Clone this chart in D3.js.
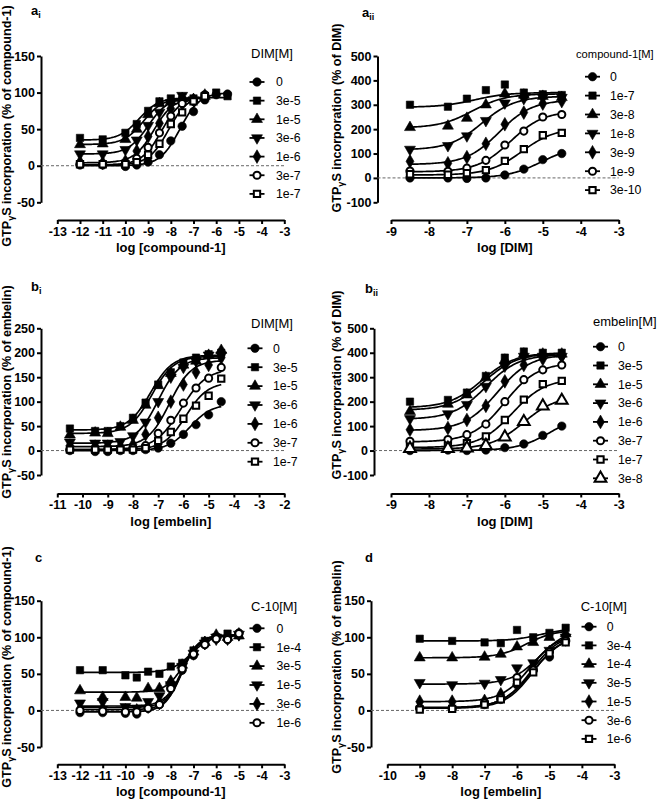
<!DOCTYPE html>
<html><head><meta charset="utf-8">
<script src="https://cdn.jsdelivr.net/npm/d3@7"></script>
<style>body{margin:0;background:#fff}svg{display:block}text{font-family:"Liberation Sans",Arial,sans-serif;fill:#000}</style>
</head><body><svg id="chart" width="660" height="803"></svg>
<script>
// ---------- DATA ----------
// Panel a_i : log [compound-1], DIM[M]
const aiX = [-12,-11,-10,-9.5,-9,-8.5,-8,-7.5,-7,-6.5,-6,-5.5];
const aiSeries = ["0","3e-5","1e-5","3e-6","1e-6","3e-7","1e-7"];
const aiValues = [
  [1,1,-1,1,5,15,34,54,74,90,97,98],
  [38,36,45,57,75,88,92,90,92,95,100,95],
  [29,30,36,50,70,85,88,92,90,95,null,null],
  [16,16,22,35,55,73,86,96,90,null,null,null],
  [5,4,6,20,40,58,78,85,90,96,null,null],
  [2,2,3,10,25,45,68,85,88,97,null,null],
  [2,2,2,5,15,30,57,73,88,95,null,null]
];
// fitted curve parameters: [bottom, top, logEC50, hill]
const aiFit = [[0,100,-7.6,1],[35,93,-9.4,1],[29,93,-9.2,1],[16,93,-9.0,1],[4,93,-8.75,1],[1,95,-8.4,1],[1,97,-8.1,1]];

// Panel a_ii : log [DIM], compound-1[M]
const aiiX = [-8.5,-7.5,-7,-6.5,-6,-5.5,-5,-4.5];
const aiiSeries = ["0","1e-7","3e-8","1e-8","3e-9","1e-9","3e-10"];
const aiiValues = [
  [0,0,-2,0,12,36,75,100],
  [300,292,325,360,383,350,343,340],
  [207,213,245,300,345,340,335,330],
  [117,132,172,235,307,325,330,330],
  [68,60,85,140,220,268,305,315],
  [28,27,40,72,135,192,250,260],
  [15,13,20,32,70,118,175,185]
];
const aiiFit = [[0,130,-5.05,1],[290,350,-6.8,1],[205,345,-6.85,1],[115,335,-6.6,1],[55,320,-6.15,1],[25,275,-5.85,1],[12,205,-5.55,1]];

// Panel b_i : log [embelin], DIM[M]
const biX = [-10.5,-9.5,-9,-8.5,-8,-7.5,-7,-6.5,-6,-5.5,-5,-4.5];
const biSeries = ["0","3e-5","1e-5","3e-6","1e-6","3e-7","1e-7"];
const biValues = [
  [0,-2,-2,0,0,2,5,15,33,53,73,100],
  [45,40,40,50,67,98,135,160,180,190,197,200],
  [32,36,35,48,62,93,133,158,175,183,195,205],
  [17,15,15,18,30,58,100,150,170,183,195,195],
  [10,8,8,8,12,33,67,100,135,160,175,190],
  [2,2,2,3,5,10,35,62,97,128,148,170],
  [2,2,2,2,2,5,20,38,65,92,112,147]
];
const biFit = [[0,95,-5.75,1],[42,195,-7.3,1],[35,193,-7.25,1],[15,190,-7.0,1],[8,185,-6.55,1],[2,168,-6.1,0.85],[2,140,-5.9,1]];

// Panel b_ii : log [DIM], embelin[M]
const biiX = [-8.5,-7.5,-7,-6.5,-6,-5.5,-5,-4.5];
const biiSeries = ["0","3e-5","1e-5","3e-6","1e-6","3e-7","1e-7","3e-8"];
const biiValues = [
  [0,2,0,2,12,27,62,100],
  [200,207,237,305,380,405,400,400],
  [160,190,228,298,370,395,395,395],
  [130,150,188,262,345,385,385,385],
  [85,92,125,183,283,350,375,385],
  [38,45,65,108,200,290,330,350],
  [15,20,30,58,125,208,272,285],
  [8,8,10,20,55,118,182,205]
];
const biiFit = [[0,150,-4.8,1],[175,400,-6.6,1],[165,398,-6.55,1],[128,393,-6.5,1],[82,393,-6.2,1],[35,360,-6.0,1],[12,295,-5.8,1],[6,225,-5.5,1]];

// Panel c : log [compound-1], C-10[M]
const cX = [-12,-11,-10,-9.5,-9,-8.5,-8,-7.5,-7,-6.5,-6,-5.5,-5];
const cSeries = ["0","1e-4","3e-5","1e-5","3e-6","1e-6"];
const cValues = [
  [-3,-3,-4,-5,3,8,30,55,75,90,98,97,106],
  [55,55,48,45,53,50,60,65,82,95,100,105,103],
  [27,18,18,17,30,30,40,62,80,93,103,100,102],
  [10,12,5,3,12,20,35,60,78,92,100,98,104],
  [2,2,0,0,5,10,32,58,78,92,98,98,104],
  [0,-1,-2,-2,3,8,30,57,77,90,98,97,105]
];
const cFit = [[-2,102,-7.55,1.2],[52,103,-7.1,1],[25,103,-7.4,1.1],[6,103,-7.5,1.15],[4,103,-7.5,1.2],[1,103,-7.5,1.2]];

// Panel d : log [embelin], C-10[M]
const dX = [-9,-8,-7,-6.5,-6,-5.5,-5,-4.5];
const dSeries = ["0","3e-4","1e-4","3e-5","1e-5","3e-6","1e-6"];
const dValues = [
  [3,3,8,15,35,55,73,95],
  [98,95,93,92,110,100,106,113],
  [72,72,73,77,87,93,100,105],
  [38,35,37,42,58,65,82,100],
  [12,12,13,22,40,58,80,97],
  [3,3,10,17,45,55,80,95],
  [1,2,8,15,38,52,78,93]
];
const dFit = [[3,105,-5.5,0.9],[95,112,-5.3,1],[72,110,-5.7,1],[36,112,-5.3,1],[12,105,-5.6,1],[4,105,-5.55,1],[3,103,-5.5,1]];

const shapes = ["circle","square","triangle","triangleDown","diamond","openCircle","openSquare","openTriangle"];

// ---------- DRAWING ----------
const svg = d3.select("#chart");
const fmt = d => String(d);
function fourPL(p, x){ return p[0] + (p[1]-p[0]) / (1 + Math.pow(10, (p[2]-x)*p[3])); }

function marker(sel, shape){
  const open = shape.startsWith("open");
  let type = d3.symbolCircle, size = 56, rot = 0;
  if (shape==="square"||shape==="openSquare"){ type=d3.symbolSquare; size=54; }
  if (shape==="triangle"||shape==="openTriangle"){ type=d3.symbolTriangle; size=52; }
  if (shape==="triangleDown"){ type=d3.symbolTriangle; size=52; rot=180; }
  if (shape==="diamond"){ type=d3.symbolDiamond; size=54; }
  if (open) size = shape==="openTriangle" ? 60 : 40;
  sel.append("path")
    .attr("d", d3.symbol().type(type).size(size)())
    .attr("transform", d => `translate(${d.px},${d.py}) rotate(${rot})`)
    .attr("fill", open ? "#fff" : "#000")
    .attr("stroke", "#000")
    .attr("stroke-width", open ? 2 : 0.6);
}

function drawPanel(c){
  const g = svg.append("g");
  const x = d3.scaleLinear().domain(c.xDomain).range([c.xLeft, c.xRight]);
  const y = d3.scaleLinear().domain(c.yDomain).range([c.yBot, c.yTop]);

  const ya = g.append("g").attr("transform", `translate(${c.yAxisX},0)`)
    .call(d3.axisLeft(y).tickValues(c.yTicks).tickFormat(fmt).tickSize(4).tickSizeOuter(0).tickPadding(2));
  const xa = g.append("g").attr("transform", `translate(0,${c.xAxisY})`)
    .call(d3.axisBottom(x).tickValues(d3.range(c.xDomain[0], c.xDomain[1]+0.5, 1)).tickFormat(fmt).tickSize(4).tickSizeOuter(0).tickPadding(3));
  [ya, xa].forEach(a => {
    a.select(".domain").attr("stroke-width", 2);
    a.selectAll(".tick line").attr("stroke-width", 2);
    a.selectAll(".tick text").attr("font-size", 12.5).attr("font-weight", "bold").attr("font-family", '"Liberation Sans",Arial,sans-serif');
  });

  // zero reference line
  g.append("line").attr("x1", c.yAxisX).attr("x2", c.xRight).attr("y1", y(0)).attr("y2", y(0))
    .attr("stroke", "#666").attr("stroke-width", 1).attr("stroke-dasharray", "3,2");

  // fitted curves
  const line = d3.line().x(d => x(d[0])).y(d => y(d[1]));
  c.values.forEach((vals, i) => {
    const xs = c.xs.filter((xv, j) => vals[j] !== null);
    const lo = d3.min(xs), hi = d3.max(xs);
    const pts = d3.range(0, 101).map(k => { const xv = lo + (hi-lo)*k/100; return [xv, fourPL(c.fits[i], xv)]; });
    g.append("path").attr("d", line(pts)).attr("fill", "none").attr("stroke", "#000").attr("stroke-width", 1.7);
  });

  // points
  c.values.forEach((vals, i) => {
    const data = vals.map((v, j) => ({px: x(c.xs[j]), py: y(v), v})).filter(d => d.v !== null);
    const s = g.append("g").selectAll("g").data(data).join("g");
    marker(s, shapes[i]);
  });

  // panel title
  const t = g.append("text").attr("x", c.titleX).attr("y", c.titleY).attr("font-size", 13).attr("font-weight", "bold");
  t.append("tspan").text(c.title);
  if (c.sub) t.append("tspan").attr("dy", 3).attr("font-size", 9).text(c.sub);

  // axis titles
  g.append("text").attr("x", (c.xLeft + c.xRight)/2).attr("y", c.xLabY).attr("text-anchor", "middle")
    .attr("font-size", 13).attr("font-weight", "bold").text(c.xLabel);
  const yl = g.append("text").attr("transform", `translate(${c.yLabX},${c.yLabY}) rotate(-90)`)
    .attr("text-anchor", "middle").attr("font-size", 12.6).attr("font-weight", "bold");
  yl.append("tspan").text("GTP");
  yl.append("tspan").attr("dy", 3).attr("font-size", 9).text("γ");
  yl.append("tspan").attr("dy", -3).text("S incorporation (% of " + c.yRef + ")");

  // legend
  g.append("text").attr("x", c.legX).attr("y", c.legTitleY).attr("font-size", c.legTitleSize || 13).text(c.legTitle);
  c.series.forEach((name, i) => {
    const ly = c.legY0 + i * c.legStep;
    const lg = g.append("g");
    lg.append("line").attr("x1", c.legX1).attr("x2", c.legX1 + 15).attr("y1", ly).attr("y2", ly)
      .attr("stroke", "#000").attr("stroke-width", 1.8);
    marker(lg.append("g").datum({px: c.legX1 + 7.5, py: ly}), shapes[i]);
    lg.append("text").attr("x", c.legTextX).attr("y", ly + 4.3).attr("font-size", 12.3).text(name);
  });
}

drawPanel({xs: aiX, series: aiSeries, values: aiValues, fits: aiFit,
  xDomain: [-13,-3], xLeft: 57.3, xRight: 284.3, xAxisY: 220,
  yDomain: [-50,150], yTicks: [-50,0,50,100,150], yTop: 56, yBot: 202.3, yAxisX: 41,
  title: "a", sub: "i", titleX: 31, titleY: 15,
  xLabel: "log [compound-1]", xLabY: 252, yRef: "compound-1", yLabX: 11, yLabY: 126,
  legTitle: "DIM[M]", legX: 251, legTitleY: 57.5, legY0: 82, legStep: 18.65, legX1: 249.5, legTextX: 276});

drawPanel({xs: aiiX, series: aiiSeries, values: aiiValues, fits: aiiFit,
  xDomain: [-9,-3], xLeft: 391, xRight: 618.7, xAxisY: 220,
  yDomain: [-100,500], yTicks: [-100,0,100,200,300,400,500], yTop: 56, yBot: 202.3, yAxisX: 377.5,
  title: "a", sub: "ii", titleX: 362, titleY: 17,
  xLabel: "log [DIM]", xLabY: 252, yRef: "DIM", yLabX: 341, yLabY: 118,
  legTitle: "compound-1[M]", legTitleSize: 11.2, legX: 576, legTitleY: 57.5, legY0: 76.7, legStep: 18.9, legX1: 585, legTextX: 610});

drawPanel({xs: biX, series: biSeries, values: biValues, fits: biFit,
  xDomain: [-11,-2], xLeft: 57.3, xRight: 284.3, xAxisY: 493.5,
  yDomain: [-50,250], yTicks: [-50,0,50,100,150,200,250], yTop: 328.3, yBot: 475, yAxisX: 41,
  title: "b", sub: "i", titleX: 31, titleY: 291,
  xLabel: "log [embelin]", xLabY: 526, yRef: "embelin", yLabX: 11, yLabY: 392,
  legTitle: "DIM[M]", legX: 251, legTitleY: 328, legY0: 348.3, legStep: 18.9, legX1: 247.5, legTextX: 273});

drawPanel({xs: biiX, series: biiSeries, values: biiValues, fits: biiFit,
  xDomain: [-9,-3], xLeft: 391, xRight: 618.7, xAxisY: 493.5,
  yDomain: [-100,500], yTicks: [-100,0,100,200,300,400,500], yTop: 328.3, yBot: 475, yAxisX: 374,
  title: "b", sub: "ii", titleX: 365, titleY: 292.5,
  xLabel: "log [DIM]", xLabY: 526, yRef: "DIM", yLabX: 341, yLabY: 385,
  legTitle: "embelin[M]", legX: 593, legTitleY: 326, legY0: 346.7, legStep: 18.8, legX1: 593, legTextX: 618});

drawPanel({xs: cX, series: cSeries, values: cValues, fits: cFit,
  xDomain: [-13,-3], xLeft: 57.3, xRight: 284.3, xAxisY: 764.3,
  yDomain: [-50,150], yTicks: [-50,0,50,100,150], yTop: 600.7, yBot: 747, yAxisX: 41,
  title: "c", sub: "", titleX: 35, titleY: 561.5,
  xLabel: "log [compound-1]", xLabY: 796, yRef: "compound-1", yLabX: 11, yLabY: 667,
  legTitle: "C-10[M]", legX: 251, legTitleY: 611, legY0: 628.3, legStep: 18.9, legX1: 249.5, legTextX: 276.5});

drawPanel({xs: dX, series: dSeries, values: dValues, fits: dFit,
  xDomain: [-10,-3], xLeft: 387.3, xRight: 614.3, xAxisY: 764.3,
  yDomain: [-50,150], yTicks: [-50,0,50,100,150], yTop: 600.7, yBot: 747, yAxisX: 371,
  title: "d", sub: "", titleX: 365, titleY: 561.5,
  xLabel: "log [embelin]", xLabY: 796, yRef: "embelin", yLabX: 341, yLabY: 667,
  legTitle: "C-10[M]", legX: 580.7, legTitleY: 611, legY0: 626.7, legStep: 18.7, legX1: 581.5, legTextX: 606.7});
</script></body></html>
